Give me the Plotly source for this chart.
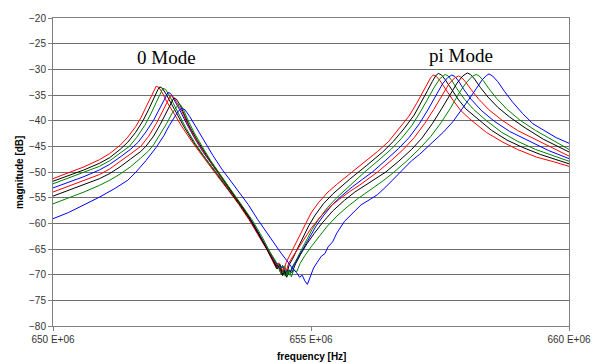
import plotly.graph_objects as go

# ---- data (frequency in MHz, magnitude in dB) ----
freq_red1 = [650.0, 650.3, 650.6, 650.9, 651.1, 651.3, 651.45, 651.6, 651.7, 651.8, 651.9, 651.96, 652.0, 652.05, 652.12, 652.2, 652.35, 652.5, 652.7, 652.9, 653.15, 653.4, 653.6, 653.8, 654.0, 654.15, 654.25, 654.32, 654.36, 654.4, 654.44, 654.48, 654.52, 654.58, 654.66, 654.78, 654.9, 655.0, 655.15, 655.33, 655.5, 655.65, 655.97, 656.29, 656.5, 656.7, 656.9, 657.05, 657.15, 657.25, 657.32, 657.37, 657.43, 657.5, 657.6, 657.75, 657.9, 658.08, 658.4, 658.72, 659.0, 659.37, 659.7, 660.0]
mag_red1 = [-51.3, -50.1, -49.0, -47.6, -46.4, -44.8, -43.2, -41.2, -39.5, -37.4, -35.3, -33.9, -33.3, -33.5, -34.6, -36.2, -38.8, -41.2, -44.2, -47.0, -50.3, -53.6, -56.3, -59.3, -62.7, -65.2, -67.2, -68.6, -68.0, -69.4, -68.5, -68.9, -67.6, -66.4, -64.9, -62.5, -60.0, -58.0, -55.9, -53.9, -52.4, -51.2, -48.6, -46.0, -44.1, -41.7, -39.1, -36.6, -34.7, -32.7, -31.6, -31.1, -31.4, -32.2, -33.8, -36.0, -38.0, -39.7, -42.3, -44.2, -45.6, -47.1, -48.0, -48.9]

freq_black1 = [650.0, 650.3, 650.6, 650.9, 651.1, 651.3, 651.45, 651.6, 651.75, 651.85, 651.95, 652.03, 652.07, 652.12, 652.19, 652.27, 652.4, 652.55, 652.73, 652.93, 653.17, 653.42, 653.62, 653.82, 654.02, 654.17, 654.27, 654.34, 654.39, 654.44, 654.48, 654.53, 654.58, 654.64, 654.72, 654.84, 654.96, 655.08, 655.24, 655.42, 655.6, 655.75, 656.07, 656.39, 656.6, 656.8, 657.0, 657.15, 657.26, 657.35, 657.42, 657.47, 657.53, 657.6, 657.7, 657.85, 658.0, 658.2, 658.5, 658.8, 659.1, 659.45, 659.75, 660.0]
mag_black1 = [-51.8, -50.7, -49.6, -48.3, -47.2, -45.6, -44.2, -42.3, -39.9, -37.9, -35.6, -34.0, -33.4, -33.7, -34.8, -36.3, -38.7, -41.4, -44.3, -47.1, -50.3, -53.7, -56.4, -59.4, -62.8, -65.4, -67.4, -68.9, -68.3, -70.0, -69.1, -69.8, -68.0, -67.0, -65.3, -62.9, -60.4, -58.4, -56.2, -54.3, -52.7, -51.4, -48.8, -46.1, -44.0, -41.6, -38.9, -36.3, -34.1, -32.4, -31.2, -30.8, -31.1, -32.0, -33.6, -35.8, -37.7, -39.4, -41.9, -43.8, -45.2, -46.6, -47.6, -48.4]

freq_green1 = [650.0, 650.3, 650.6, 650.9, 651.1, 651.3, 651.48, 651.62, 651.78, 651.9, 652.0, 652.08, 652.13, 652.18, 652.25, 652.33, 652.45, 652.58, 652.76, 652.95, 653.18, 653.43, 653.63, 653.83, 654.03, 654.2, 654.3, 654.37, 654.42, 654.46, 654.5, 654.54, 654.58, 654.63, 654.7, 654.78, 654.9, 655.02, 655.15, 655.32, 655.5, 655.7, 655.87, 656.04, 656.3, 656.55, 656.75, 656.95, 657.12, 657.27, 657.4, 657.5, 657.56, 657.6, 657.66, 657.73, 657.83, 657.98, 658.15, 658.4, 658.7, 659.0, 659.35, 659.7, 660.0]
mag_green1 = [-52.3, -51.2, -50.1, -48.9, -47.8, -46.4, -45.0, -43.3, -40.9, -38.6, -36.4, -34.6, -33.7, -33.9, -35.0, -36.6, -39.0, -41.5, -44.5, -47.3, -50.3, -53.6, -56.3, -59.3, -62.7, -65.5, -67.4, -68.6, -69.9, -69.0, -70.3, -69.4, -70.1, -68.6, -67.4, -65.8, -63.5, -61.2, -59.2, -56.9, -55.0, -53.1, -51.6, -50.0, -47.8, -45.6, -43.5, -41.0, -38.3, -35.6, -33.3, -31.8, -31.2, -31.0, -31.3, -32.2, -33.8, -35.9, -37.8, -40.0, -42.3, -44.0, -45.6, -46.9, -47.9]

freq_blue1 = [650.0, 650.3, 650.6, 650.9, 651.1, 651.3, 651.5, 651.65, 651.8, 651.95, 652.05, 652.14, 652.2, 652.23, 652.28, 652.35, 652.45, 652.58, 652.72, 652.9, 653.1, 653.3, 653.5, 653.7, 653.88, 654.05, 654.2, 654.32, 654.4, 654.45, 654.5, 654.55, 654.6, 654.66, 654.74, 654.84, 654.96, 655.1, 655.25, 655.42, 655.6, 655.8, 656.0, 656.19, 656.45, 656.7, 656.9, 657.1, 657.27, 657.42, 657.55, 657.65, 657.73, 657.79, 657.86, 657.96, 658.1, 658.3, 658.55, 658.85, 659.2, 659.6, 660.0]
mag_blue1 = [-53.1, -52.0, -50.9, -49.6, -48.5, -47.1, -45.6, -44.2, -42.2, -39.9, -37.9, -36.0, -35.0, -34.5, -34.7, -35.9, -37.8, -40.4, -43.0, -46.0, -48.8, -51.6, -54.4, -57.2, -60.0, -63.2, -65.8, -67.7, -68.9, -68.2, -69.8, -69.0, -69.5, -68.3, -66.9, -65.0, -62.8, -60.5, -58.4, -56.3, -54.6, -52.9, -51.4, -50.0, -47.7, -45.4, -43.3, -40.6, -37.8, -35.0, -32.8, -31.6, -31.1, -31.4, -32.3, -33.9, -35.8, -38.0, -40.1, -42.1, -43.9, -45.8, -47.4]

freq_red2 = [650.0, 650.3, 650.6, 650.9, 651.1, 651.3, 651.5, 651.7, 651.85, 652.0, 652.1, 652.19, 652.25, 652.28, 652.33, 652.4, 652.5, 652.6, 652.75, 652.93, 653.13, 653.35, 653.55, 653.75, 653.95, 654.12, 654.24, 654.33, 654.38, 654.43, 654.47, 654.52, 654.57, 654.64, 654.74, 654.86, 655.0, 655.15, 655.35, 655.55, 655.75, 655.95, 656.12, 656.29, 656.55, 656.8, 657.0, 657.2, 657.38, 657.54, 657.67, 657.78, 657.86, 657.92, 658.0, 658.1, 658.25, 658.45, 658.7, 659.0, 659.35, 659.7, 660.0]
mag_red2 = [-53.9, -52.8, -51.7, -50.5, -49.4, -48.0, -46.5, -45.0, -43.1, -40.6, -38.6, -36.7, -35.5, -35.1, -35.3, -36.4, -38.2, -40.5, -43.4, -46.3, -49.2, -52.3, -55.1, -58.1, -61.5, -64.6, -66.8, -68.2, -67.7, -69.6, -68.7, -69.3, -67.7, -66.6, -64.9, -63.0, -61.0, -59.1, -56.9, -55.3, -53.8, -52.5, -51.3, -50.0, -47.8, -45.5, -43.3, -40.6, -37.8, -35.0, -32.9, -31.7, -31.3, -31.6, -32.5, -33.9, -35.8, -37.9, -39.9, -41.9, -43.7, -45.4, -46.9]

freq_black2 = [650.0, 650.3, 650.6, 650.9, 651.1, 651.3, 651.5, 651.7, 651.8, 651.95, 652.08, 652.18, 652.26, 652.31, 652.34, 652.39, 652.46, 652.54, 652.64, 652.8, 652.98, 653.18, 653.38, 653.58, 653.78, 653.96, 654.12, 654.25, 654.35, 654.4, 654.45, 654.49, 654.53, 654.58, 654.63, 654.7, 654.8, 654.92, 655.06, 655.22, 655.42, 655.65, 655.85, 656.05, 656.25, 656.45, 656.7, 656.95, 657.15, 657.35, 657.53, 657.7, 657.83, 657.94, 658.03, 658.09, 658.17, 658.28, 658.43, 658.62, 658.85, 659.15, 659.5, 660.0]
mag_black2 = [-54.7, -53.6, -52.5, -51.3, -50.3, -49.0, -47.5, -46.0, -45.0, -43.0, -40.7, -38.7, -37.0, -36.0, -35.6, -35.8, -36.9, -38.7, -41.0, -43.9, -46.8, -49.7, -52.6, -55.5, -58.5, -61.6, -64.6, -67.0, -68.6, -68.0, -70.2, -69.3, -70.5, -69.1, -69.6, -67.9, -66.0, -64.0, -62.0, -59.9, -57.6, -55.5, -53.9, -52.6, -51.3, -50.0, -47.9, -45.6, -43.4, -40.6, -37.7, -34.9, -32.7, -31.3, -30.7, -31.0, -31.9, -33.5, -35.4, -37.4, -39.3, -41.4, -43.6, -46.1]

freq_green2 = [650.0, 650.3, 650.6, 650.9, 651.1, 651.3, 651.5, 651.7, 651.85, 651.95, 652.08, 652.2, 652.3, 652.38, 652.43, 652.48, 652.54, 652.62, 652.74, 652.9, 653.07, 653.27, 653.47, 653.67, 653.87, 654.05, 654.2, 654.33, 654.43, 654.49, 654.54, 654.58, 654.62, 654.67, 654.72, 654.79, 654.88, 655.0, 655.15, 655.32, 655.5, 655.7, 655.92, 656.15, 656.4, 656.61, 656.85, 657.1, 657.32, 657.52, 657.7, 657.86, 658.0, 658.12, 658.2, 658.26, 658.34, 658.45, 658.6, 658.8, 659.05, 659.35, 659.7, 660.0]
mag_green2 = [-56.2, -55.1, -53.9, -52.6, -51.6, -50.4, -49.0, -47.3, -45.9, -44.7, -42.7, -40.6, -38.7, -37.4, -36.8, -37.0, -38.1, -40.0, -42.4, -45.2, -48.0, -50.9, -53.7, -56.5, -59.5, -62.6, -65.5, -67.6, -68.8, -68.3, -70.1, -69.2, -70.4, -69.0, -69.5, -67.8, -66.3, -64.6, -62.6, -60.5, -58.6, -56.8, -55.1, -53.5, -51.7, -50.0, -47.9, -45.5, -43.1, -40.4, -37.6, -34.8, -32.7, -31.4, -31.0, -31.3, -32.2, -33.8, -35.7, -37.8, -39.9, -41.9, -43.9, -45.6]

freq_blue2 = [650.0, 650.3, 650.6, 650.9, 651.2, 651.45, 651.6, 651.8, 652.0, 652.15, 652.25, 652.35, 652.43, 652.5, 652.56, 652.65, 652.78, 652.93, 653.1, 653.27, 653.42, 653.58, 653.78, 653.97, 654.12, 654.27, 654.42, 654.55, 654.65, 654.72, 654.78, 654.83, 654.88, 654.93, 654.97, 655.0, 655.05, 655.12, 655.2, 655.27, 655.33, 655.42, 655.5, 655.65, 655.8, 655.97, 656.15, 656.29, 656.45, 656.61, 656.8, 656.95, 657.1, 657.25, 657.4, 657.57, 657.75, 657.9, 658.05, 658.2, 658.32, 658.4, 658.45, 658.52, 658.62, 658.75, 658.9, 659.1, 659.3, 659.5, 659.75, 660.0]
mag_blue2 = [-59.1, -57.9, -56.4, -54.9, -53.2, -51.6, -50.1, -47.8, -45.2, -42.9, -41.0, -39.3, -38.1, -37.6, -37.9, -39.2, -41.4, -44.0, -46.8, -49.4, -51.5, -53.6, -56.3, -59.3, -61.5, -63.8, -65.8, -67.5, -68.9, -69.6, -70.5, -70.1, -71.2, -71.9, -70.8, -69.9, -68.7, -67.6, -66.4, -65.9, -64.6, -63.6, -61.9, -59.6, -58.0, -56.4, -55.3, -54.4, -52.9, -51.3, -49.3, -47.8, -46.6, -45.2, -43.8, -42.2, -40.2, -38.2, -36.0, -33.8, -32.0, -31.2, -30.9, -31.3, -32.4, -34.3, -36.3, -38.6, -40.6, -41.8, -43.3, -44.4]

series = [
    (freq_red1, mag_red1, "#ff0000"),
    (freq_black1, mag_black1, "#000000"),
    (freq_green1, mag_green1, "#008000"),
    (freq_blue1, mag_blue1, "#0000ff"),
    (freq_red2, mag_red2, "#ff0000"),
    (freq_black2, mag_black2, "#000000"),
    (freq_green2, mag_green2, "#008000"),
    (freq_blue2, mag_blue2, "#0000ff"),
]

x_tick_vals = [650, 655, 660]
x_tick_text = ["650 E+06", "655 E+06", "660 E+06"]
y_tick_vals = [-80, -75, -70, -65, -60, -55, -50, -45, -40, -35, -30, -25, -20]

fig = go.Figure()
for fx, my, col in series:
    fig.add_trace(go.Scatter(x=fx, y=my, mode="lines",
                             line=dict(color=col, width=1), showlegend=False,
                             hoverinfo="skip"))

fig.add_annotation(x=652.2, y=-27.6, text="0 Mode", showarrow=False,
                   font=dict(family="Liberation Serif", size=19, color="#000000"))
fig.add_annotation(x=657.9, y=-27.4, text="pi Mode", showarrow=False,
                   font=dict(family="Liberation Serif", size=19, color="#000000"))

fig.add_annotation(xref="paper", yref="paper", x=0.5, y=-0.1, yanchor="middle",
                   text="<b>frequency [Hz]</b>", showarrow=False,
                   font=dict(family="Liberation Sans", size=10, color="#000000"))
fig.add_annotation(xref="paper", yref="paper", x=-0.066, y=0.5, xanchor="center",
                   textangle=-90, text="<b>magnitude [dB]</b>", showarrow=False,
                   font=dict(family="Liberation Sans", size=10, color="#000000"))

fig.update_xaxes(range=[650, 660], tickvals=x_tick_vals, ticktext=x_tick_text,
                 showgrid=False, zeroline=False, showline=True, linecolor="#808080",
                 linewidth=1, mirror=True, ticks="outside", ticklen=4,
                 tickcolor="#808080",
                 tickfont=dict(family="Liberation Sans", size=10, color="#333333"))
fig.update_yaxes(range=[-80, -20], tickvals=y_tick_vals,
                 showgrid=True, gridcolor="#6e6e6e", gridwidth=1, zeroline=False,
                 showline=True, linecolor="#808080", linewidth=1, mirror=True,
                 ticks="outside", ticklen=4, tickcolor="#808080",
                 tickfont=dict(family="Liberation Sans", size=10, color="#333333"))

fig.update_layout(width=603, height=363, margin=dict(l=53, r=30, t=15, b=37),
                  paper_bgcolor="#ffffff", plot_bgcolor="#ffffff", showlegend=False,
                  hovermode=False)

fig.write_html("out.html", config={"displayModeBar": False, "staticPlot": True},
               post_script="document.body.style.margin='0';document.body.style.overflow='hidden';")
